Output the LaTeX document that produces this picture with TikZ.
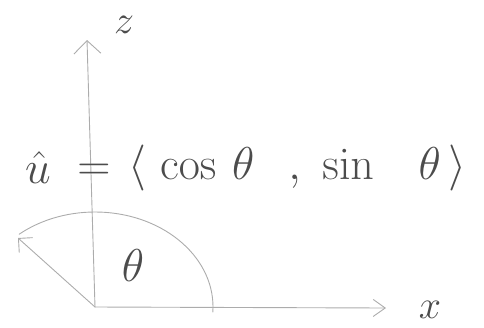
\RequirePackage{fix-cm}
\documentclass[tikz,border=0pt]{standalone}
\usetikzlibrary{arrows.meta}
\begin{document}
\begin{tikzpicture}[x=1pt,y=-1pt,
  axis/.style={draw=gray!65, line width=0.9pt, line cap=round, line join=round},
  lbl/.style={text=black!70, inner sep=0pt, font=\fontsize{46}{46}\selectfont}]
\useasboundingbox (0,0) rectangle (484,327);
\coordinate (O) at (95,307);
\coordinate (Z) at (87,40);
\coordinate (X) at (386,308);
\coordinate (U) at (18,238);
\draw[axis, -{Straight Barb[length=13pt,width=27pt]}] (O) -- (Z);
\draw[axis, -{Straight Barb[length=12pt,width=17pt]}] (O) -- (X);
\draw[axis, -{Straight Barb[length=10pt,width=20pt]}] (O) -- (U);
\draw[axis] (O) ++(3:118 and 95) arc[start angle=3, end angle=-130, x radius=118, y radius=95];
\node[lbl, font=\fontsize{40}{40}\selectfont] (zl) at (124,25) {$z$};
\node[lbl, font=\fontsize{40}{40}\selectfont] (xl) at (430,310) {$x$};
\node[lbl] (th) at (133,266) {$\theta$};
\node[lbl] (uh) at (38,168) {$\hat{u}$};
\node[lbl] (eq) at (94,172) {$=$};
\node[lbl, anchor=west] (vec) at (128,168) {$\langle\hspace{14pt}\cos\hspace{8pt}\theta\hspace{34pt},\hspace{14pt}\sin\hspace{37pt}\theta\hspace{8pt}\rangle$};
\end{tikzpicture}
\end{document}
